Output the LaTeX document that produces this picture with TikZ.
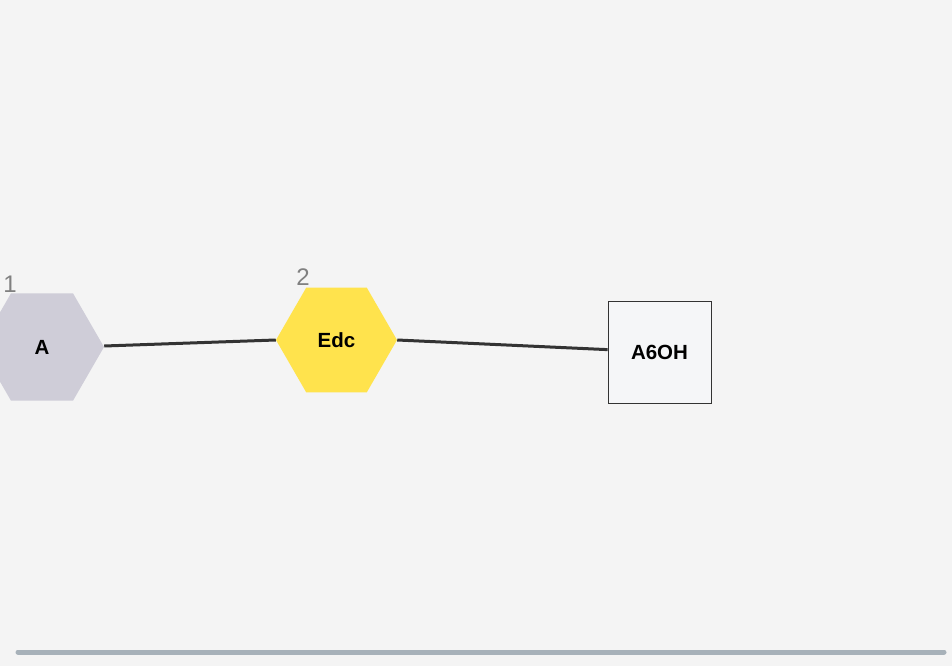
\documentclass[tikz,border=0pt]{standalone}
\usepackage{fontspec}
\setmainfont{Liberation Sans}
\usetikzlibrary{shapes.geometric}
\definecolor{bg}{HTML}{F4F4F4}
\definecolor{hexgray}{HTML}{CFCDD8}
\definecolor{hexyellow}{HTML}{FFE34D}
\definecolor{boxfill}{HTML}{F5F6F8}
\definecolor{edgecol}{HTML}{333333}
\definecolor{barcol}{HTML}{A7B1B9}
\definecolor{numcol}{HTML}{808080}
\tikzset{
  hexnode/.style={regular polygon, regular polygon sides=6, draw=none, inner sep=0pt, text depth=0pt, font=\bfseries\fontsize{20.5}{24}\selectfont},
  boxnode/.style={rectangle, draw=edgecol, line width=0.7pt, fill=boxfill, minimum width=103pt, minimum height=102pt, inner sep=0pt, text depth=0pt, font=\bfseries\fontsize{20.5}{24}\selectfont},
  numlabel/.style={text=numcol, font=\fontsize{24}{28}\selectfont, inner sep=0pt},
  edge/.style={draw=edgecol, line width=3pt},
}
\begin{document}
\begin{tikzpicture}[x=1pt,y=-1pt]
  \fill[bg] (0,0) rectangle (952,666);
  \useasboundingbox (0,0) rectangle (952,666);
  \node[hexnode, fill=hexgray, minimum size=124pt] (A) at (42,347) {A};
  \node[hexnode, fill=hexyellow, minimum size=121pt] (E) at (336.5,340) {Edc};
  \node[boxnode] (B) at (659.5,352) {A6OH};
  \node[numlabel] (n1) at (10,284) {1};
  \node[numlabel] (n2) at (303,277) {2};
  \draw[edge] ([yshift=1pt]A.east) -- (E.west);
  \draw[edge] (E.east) -- (B);
  \coordinate (b1) at (18,652);
  \coordinate (b2) at (944,652);
  \draw[draw=barcol, line width=5pt, line cap=round] (b1) -- (b2);
\end{tikzpicture}
\end{document}
